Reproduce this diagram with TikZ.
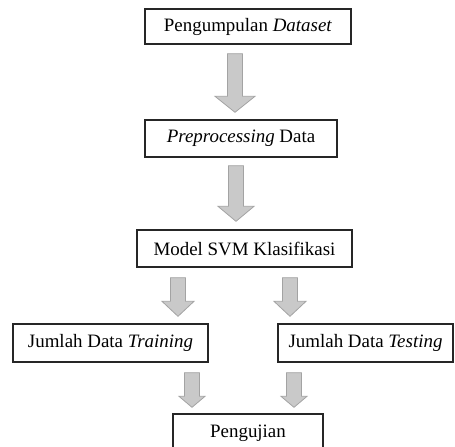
\documentclass[tikz,border=0pt]{standalone}
\usepackage{fontspec}
\setmainfont{Liberation Serif}
\usepackage{tikz}
\usetikzlibrary{calc}
\definecolor{garis}{HTML}{262626}
\definecolor{panah}{HTML}{C9C9C9}
\definecolor{tepi}{HTML}{A3A3A3}
\newcommand{\blockarrow}[4]{\filldraw[arrowfill] ($(#1)+(-7.5,0)$) -- ($(#1)+(7.5,0)$) -- ($(#2)+(7.5,-#4)$) -- ($(#2)+(#3,-#4)$) -- (#2) -- ($(#2)+(-#3,-#4)$) -- ($(#2)+(-7.5,-#4)$) -- cycle;}

\begin{document}
\begin{tikzpicture}[x=0.75pt,y=-0.75pt,
  kotak/.style={draw=garis,line width=1pt,fill=white,inner sep=0pt,font=\fontsize{14.2}{17}\selectfont},
  arrowfill/.style={fill=panah,draw=tepi,line width=0.6pt,line join=miter}]
  \useasboundingbox (0,0) rectangle (455,447);
  \node[kotak,minimum width=154.5pt,minimum height=26.25pt] (dataset) at (248,26.5) {Pengumpulan \textit{Dataset}};
  \node[kotak,minimum width=144pt,minimum height=27.75pt] (prepro) at (241,138.5) {\textit{Preprocessing} Data};
  \node[kotak,minimum width=161.25pt,minimum height=27.75pt] (model) at (244.5,248.5) {Model SVM Klasifikasi};
  \node[kotak,minimum width=146.25pt,minimum height=28.5pt] (training) at (110.5,343) {Jumlah Data \textit{Training}};
  \node[kotak,minimum width=131.25pt,minimum height=28.5pt] (testing) at (365.5,343) {Jumlah Data \textit{Testing}};
  \node[kotak,minimum width=112.5pt,minimum height=28.5pt] (uji) at (248,433) {Pengujian};
  \coordinate (a1top) at ($(dataset.south)+(-13,9)$);
  \coordinate (a1tip) at ($(prepro.north)+(-6,-7)$);
  \coordinate (a2top) at ($(prepro.south)+(-5,8)$);
  \coordinate (a2tip) at ($(model.north)+(-8.5,-8)$);
  \coordinate (a3ltop) at ($(model.south)+(-66.5,10)$);
  \coordinate (a3ltip) at ($(training.north)+(67.5,-7)$);
  \coordinate (a3rtop) at ($(model.south)+(45.5,10)$);
  \coordinate (a3rtip) at ($(testing.north)+(-75.5,-7)$);
  \coordinate (a4ltop) at ($(training.south)+(81.5,10)$);
  \coordinate (a4ltip) at ($(uji.north)+(-56,-6)$);
  \coordinate (a4rtop) at ($(testing.south)+(-71.5,10)$);
  \coordinate (a4rtip) at ($(uji.north)+(46,-6)$);
  \blockarrow{a1top}{a1tip}{20}{16}
  \blockarrow{a2top}{a2tip}{18}{15}
  \blockarrow{a3ltop}{a3ltip}{16}{15}
  \blockarrow{a3rtop}{a3rtip}{16}{15}
  \blockarrow{a4ltop}{a4ltip}{13}{11}
  \blockarrow{a4rtop}{a4rtip}{13}{11}
\end{tikzpicture}
\end{document}
